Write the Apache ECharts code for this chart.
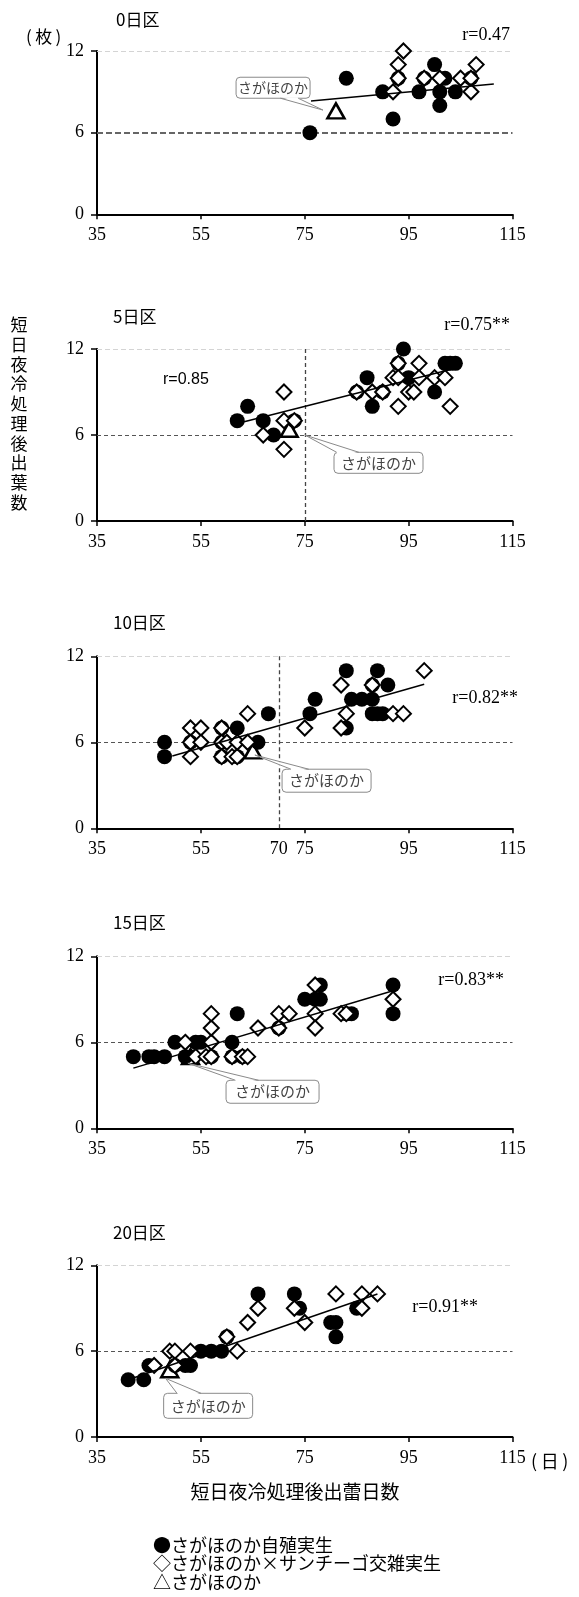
<!DOCTYPE html>
<html><head><meta charset="utf-8">
<script src="https://cdn.jsdelivr.net/npm/echarts@6/dist/echarts.min.js"></script>
<style>html,body{margin:0;padding:0;background:#fff}#c{width:579px;height:1597px}</style>
</head><body><div id="c"></div>
<script>
// ---------- DATA ----------
const panelTitles = ['0日区', '5日区', '10日区', '15日区', '20日区'];
const rLabels = ['r=0.47', 'r=0.75**', 'r=0.82**', 'r=0.83**', 'r=0.91**'];
const xTickValues = [35, 55, 75, 95, 115];
const xLabelValues3 = [35, 55, 70, 75, 95, 115];
const yTickValues = [0, 6, 12];
const yTitle = '短日夜冷処理後出葉数';
const xTitle = '短日夜冷処理後出蕾日数';
const legendLines = ['●さがほのか自殖実生', '◇さがほのか×サンチーゴ交雑実生', '△さがほのか'];
const calloutText = 'さがほのか';

// 0日区
const circles0 = [[76,6],[83,10],[90,9],[92,7],[93,10],[97,9],[98,10],[100,11],[101,9],[101,8],[102,10],[104,9],[107,10]];
const diamonds0 = [[94,12],[93,11],[93,10],[92,9],[98,10],[101,10],[105,10],[107,10],[108,11],[107,9]];
const triangle0 = [[81,7.6]];
const trend0 = [[76.2,8.33],[111.4,9.58]];
// 5日区
const circles5 = [[62,7],[64,8],[67,7],[69,6],[73,7],[85,9],[87,10],[88,8],[90,9],[93,11],[94,12],[95,10],[100,9],[102,11],[103,11],[104,11]];
const diamonds5 = [[71,9],[67,6],[71,7],[73,7],[71,5],[85,9],[88,9],[90,9],[93,11],[92,10],[93,10],[93,8],[97,11],[95,9],[96,9],[97,10],[100,10],[102,10],[103,8]];
const triangle5 = [[72,6.4]];
const trend5 = [[62,6.8],[104,10.65]];
// 10日区
const circles10 = [[48,6],[48,5],[53,6],[59,7],[59,6],[59,5],[62,7],[62,5],[66,6],[68,8],[76,8],[77,9],[83,11],[83,7],[84,9],[86,9],[88,9],[89,11],[91,10],[88,8],[89,8],[90,8],[88,10]];
const diamonds10 = [[53,7],[55,7],[53,6],[55,6],[53,5],[59,7],[59,6],[59,5],[60,6],[61,5],[62,5],[62,6],[64,6],[64,8],[75,7],[82,10],[83,8],[82,7],[88,10],[92,8],[94,8],[98,11]];
const triangle10 = [[65,5.4]];
const trend10 = [[49.5,5.05],[98,10.05]];
// 15日区
const circles15 = [[42,5],[45,5],[46,5],[48,5],[50,6],[52,5],[54,6],[55,6],[57,5],[61,6],[61,5],[63,5],[62,8],[70,7],[75,9],[77,9],[78,9],[78,10],[83,8],[84,8],[92,10],[92,8]];
const diamonds15 = [[52,6],[54,5],[56,5],[57,5],[57,6],[57,7],[57,8],[61,5],[63,5],[64,5],[66,7],[70,7],[70,8],[72,8],[77,10],[77,8],[77,7],[82,8],[83,8],[92,9]];
const triangle15 = [[53,5]];
const trend15 = [[42,4.2],[92,9.6]];
// 20日区
const circles20 = [[41,4],[44,4],[45,5],[50,5],[52,5],[53,5],[55,6],[57,6],[59,6],[60,7],[66,10],[73,10],[74,9],[80,8],[81,8],[81,7],[85,9]];
const diamonds20 = [[46,5],[49,6],[50,6],[50,5],[53,6],[60,7],[62,6],[64,8],[66,9],[73,9],[75,8],[81,10],[86,10],[86,9],[89,10]];
const triangle20 = [[49,4.7]];
const trend20 = [[41,4.0],[89,10.0]];

const verticalRefs = [null, 75, 70, null, null];

// ---------- LAYOUT ----------
const circ = [circles0, circles5, circles10, circles15, circles20];
const dia = [diamonds0, diamonds5, diamonds10, diamonds15, diamonds20];
const tri = [triangle0, triangle5, triangle10, triangle15, triangle20];
const trd = [trend0, trend5, trend10, trend15, trend20];

const gridTops = [51, 349, 656.3, 956.3, 1265.3];
const gridHeights = [163.3, 172, 172, 172, 171.7];
const SERIF = '"Liberation Serif", serif';
const JP = '"Noto Sans CJK JP", sans-serif';

const chart = echarts.init(document.getElementById('c'), null, {renderer: 'canvas'});

const grids = [], xAxes = [], yAxes = [], series = [];
for (let i = 0; i < 5; i++) {
  grids.push({left: 97, width: 415.5, top: gridTops[i], height: gridHeights[i], containLabel: false});
  xAxes.push({
    type: 'value', gridIndex: i, min: 35, max: 115,
    axisLine: {show: true, onZero: false, lineStyle: {color: '#000', width: 2}},
    axisTick: {show: true, inside: false, length: 5, customValues: xTickValues, lineStyle: {color: '#000', width: 1.5}},
    axisLabel: {show: true, customValues: i === 2 ? xLabelValues3 : xTickValues, margin: 12,
      fontFamily: SERIF, fontSize: 18, color: '#000'},
    splitLine: {show: false}
  });
  yAxes.push({
    type: 'value', gridIndex: i, min: 0, max: 12, interval: 6,
    axisLine: {show: true, onZero: false, lineStyle: {color: '#000', width: 2}},
    axisTick: {show: true, inside: false, length: 6, lineStyle: {color: '#000', width: 1.5}},
    axisLabel: {show: true, margin: 13, fontFamily: SERIF, fontSize: 18, color: '#000'},
    splitLine: {show: false}
  });
  const mlData = [
    {yAxis: 6, lineStyle: i === 0 ? {color: '#666', width: 1.8, type: [6, 3]} : {color: '#555', width: 1, type: [4, 3]}},
    {yAxis: 12, lineStyle: {color: '#d4d4d4', width: 1, type: [5, 3]}}
  ];
  if (verticalRefs[i] !== null) {
    mlData.push({xAxis: verticalRefs[i], lineStyle: {color: '#444', width: 1.3, type: [4, 3]}});
  }
  series.push({
    type: 'scatter', xAxisIndex: i, yAxisIndex: i, data: tri[i], symbol: 'triangle', symbolSize: [17, 15],
    itemStyle: {color: '#fff', borderColor: '#000', borderWidth: 2.5, opacity: 1}, z: 2, silent: true,
    markLine: {silent: true, symbol: ['none', 'none'], label: {show: false}, data: mlData, z: 1}
  });
  series.push({
    type: 'scatter', xAxisIndex: i, yAxisIndex: i, data: circ[i], symbol: 'circle', symbolSize: 15,
    itemStyle: {color: '#000', opacity: 1}, z: 3, silent: true
  });
  series.push({
    type: 'scatter', xAxisIndex: i, yAxisIndex: i, data: dia[i], symbol: 'diamond', symbolSize: 15,
    itemStyle: {color: '#fff', borderColor: '#000', borderWidth: 2, opacity: 1}, z: 4, silent: true
  });
  series.push({
    type: 'line', xAxisIndex: i, yAxisIndex: i, data: trd[i], symbol: 'none',
    lineStyle: {color: '#000', width: 1.5, opacity: 1}, z: 5, silent: true
  });
}

chart.setOption({
  animation: false,
  backgroundColor: '#fff',
  grid: grids, xAxis: xAxes, yAxis: yAxes, series: series
});

// ---------- ANNOTATIONS ----------
const g = [];
const titleX = [116, 113, 113, 113, 113];
const titleY = [20, 316.7, 623, 923, 1233];
const rRight = [510, 510, 518, 504, 478];
const rY = [35, 325, 698, 980, 1307];
for (let i = 0; i < 5; i++) {
  g.push({type: 'text', x: titleX[i], y: titleY[i], style: {text: panelTitles[i], font: '17px ' + JP, fill: '#000', textVerticalAlign: 'middle'}});
  g.push({type: 'text', x: rRight[i], y: rY[i], style: {text: rLabels[i], font: '18px ' + SERIF, fill: '#000', textAlign: 'right', textVerticalAlign: 'middle'}});
}
g.push({type: 'text', x: 26, y: 36.7, style: {text: '(\u2009枚\u2009)', font: '17px ' + JP, fill: '#000', textVerticalAlign: 'middle'}});
g.push({type: 'text', x: 163, y: 380, style: {text: 'r=0.85', font: '16px "Liberation Sans", Arial, sans-serif', fill: '#000', textVerticalAlign: 'middle'}});
g.push({type: 'text', x: 19, y: 315, style: {text: yTitle.split('').join('\n'), font: '17px ' + JP, fill: '#000', textAlign: 'center', lineHeight: 19.7}});
g.push({type: 'text', x: 295, y: 1492, style: {text: xTitle, font: '19px ' + JP, fill: '#000', textAlign: 'center', textVerticalAlign: 'middle'}});
g.push({type: 'text', x: 531, y: 1461, style: {text: '(\u2009日\u2009)', font: '18px ' + JP, fill: '#000', textVerticalAlign: 'middle'}});
const legY = [1545, 1563.5, 1582];
legendLines.forEach((t, k) => {
  g.push({type: 'text', x: 153, y: legY[k], style: {text: t, font: '18px ' + JP, fill: '#000', textVerticalAlign: 'middle'}});
});

// callouts: anchors given in data units of each panel
const callouts = [
  {box: [68.9, 9.3], w: 74, h: 21, tip: [78.5, 7.66], edge: 'bottom', f: [0.6, 0.84], fs: 14},
  {box: [89.2, 4.06], w: 89, h: 21, tip: [75, 6.0], edge: 'top', f: [0.03, 0.28], fs: 15},
  {box: [79.2, 3.32], w: 89, h: 23, tip: [65.4, 5.11], edge: 'top', f: [0.1, 0.3], fs: 15},
  {box: [68.8, 2.55], w: 93, h: 23, tip: [52.5, 4.54], edge: 'top', f: [0.1, 0.35], fs: 15},
  {box: [56.4, 2.18], w: 89, h: 25, tip: [48.2, 4.1], edge: 'top', f: [0.15, 0.42], fs: 15}
];
callouts.forEach((c, i) => {
  const bc = chart.convertToPixel({gridIndex: i}, c.box);
  const tp = chart.convertToPixel({gridIndex: i}, c.tip);
  const L = bc[0] - c.w / 2, T = bc[1] - c.h / 2;
  const ey = c.edge === 'top' ? T : T + c.h;
  const b1 = [L + c.w * c.f[0], ey], b2 = [L + c.w * c.f[1], ey];
  const inset = c.edge === 'top' ? 1 : -1;
  g.push({type: 'rect', shape: {x: L, y: T, width: c.w, height: c.h, r: 4}, style: {fill: '#fff', stroke: '#8a8a8a', lineWidth: 1}, z: 100});
  g.push({type: 'polygon', shape: {points: [[b1[0] + 1, b1[1] + inset], tp, [b2[0] - 1, b2[1] + inset]]}, style: {fill: '#fff', stroke: null}, z: 101});
  g.push({type: 'polyline', shape: {points: [b1, tp, b2]}, style: {fill: null, stroke: '#8a8a8a', lineWidth: 1}, z: 102});
  g.push({type: 'text', x: bc[0], y: bc[1], style: {text: calloutText, font: c.fs + 'px ' + JP, fill: '#444', textAlign: 'center', textVerticalAlign: 'middle'}, z: 103});
});

chart.setOption({graphic: g});
</script>
</body></html>
